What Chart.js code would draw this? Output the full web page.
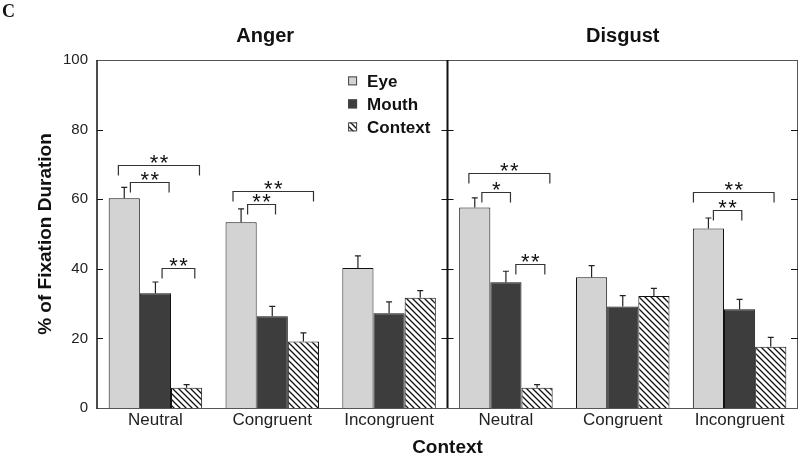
<!DOCTYPE html>
<html>
<head>
<meta charset="utf-8">
<script src="https://cdn.jsdelivr.net/npm/chart.js@4.4.1/dist/chart.umd.min.js"></script>
<style>
  html, body { margin: 0; padding: 0; background: #fff; }
  #wrap { width: 800px; height: 457px; position: relative; }
</style>
</head>
<body>
<div id="wrap"><canvas id="c" width="800" height="457"></canvas></div>
<script>
// categories: Anger panel then Disgust panel
const contexts = ["Neutral", "Congruent", "Incongruent"];
const panels = ["Anger", "Disgust"];
const series = ["Eye", "Mouth", "Context"];
const yTicks = [0, 20, 40, 60, 80, 100];

const angerEye = [60.3, 53.4, 40.2];
const angerMouth = [33.0, 26.4, 27.2];
const angerContext = [5.8, 19.1, 31.7];
const disgustEye = [57.6, 37.6, 51.6];
const disgustMouth = [36.1, 29.2, 28.4];
const disgustContext = [5.8, 32.2, 17.6];

// upper error (SEM)
const angerEyeErr = [3.1, 3.8, 3.5];
const angerMouthErr = [3.2, 2.8, 3.3];
const angerContextErr = [0.9, 2.5, 2.0];
const disgustEyeErr = [2.8, 3.3, 3.0];
const disgustMouthErr = [3.2, 3.1, 2.8];
const disgustContextErr = [0.9, 2.2, 2.7];

// significance brackets: category index, leg offsets (in category widths), level, stars
const brackets = [
  {cat: 0, from: -0.317, to: 0.377, y: 69.9, text: "**"},
  {cat: 0, from: -0.214, to: 0.117, y: 64.8, text: "**"},
  {cat: 0, from: 0.057, to: 0.337, y: 40.3, text: "**"},
  {cat: 1, from: -0.336, to: 0.353, y: 62.5, text: "**"},
  {cat: 1, from: -0.211, to: 0.028, y: 58.7, text: "**"},
  {cat: 3, from: -0.317, to: 0.376, y: 67.6, text: "**"},
  {cat: 3, from: -0.206, to: 0.039, y: 62.2, text: "*"},
  {cat: 3, from: 0.085, to: 0.333, y: 41.5, text: "**"},
  {cat: 5, from: -0.395, to: 0.295, y: 62.1, text: "**"},
  {cat: 5, from: -0.224, to: 0.019, y: 56.8, text: "**"}
];

const SANS = "'Liberation Sans', Arial, sans-serif";
const SERIF = "'Liberation Serif', 'Times New Roman', serif";

const labels = contexts.concat(contexts);
const errs = [
  angerEyeErr.concat(disgustEyeErr),
  angerMouthErr.concat(disgustMouthErr),
  angerContextErr.concat(disgustContextErr)
];

function hatch(){
  const c = document.createElement("canvas");
  c.width = 6; c.height = 6;
  const g = c.getContext("2d");
  g.fillStyle = "#fff";
  g.fillRect(0, 0, 6, 6);
  g.strokeStyle = "#111";
  g.lineWidth = 1.3;
  g.beginPath();
  g.moveTo(-1, -1); g.lineTo(7, 7);
  g.moveTo(-1, 5); g.lineTo(1, 7);
  g.moveTo(5, -1); g.lineTo(7, 1);
  g.stroke();
  return g.createPattern(c, "repeat");
}
const hatchFill = hatch();
const fills = ["#d3d3d3", "#3d3d3d", hatchFill];

const decor = {
  id: "decor",
  afterDatasetsDraw(chart){
    const ctx = chart.ctx;
    const a = chart.chartArea;
    const xs = chart.scales.x, ys = chart.scales.y;
    const catW = xs.getPixelForValue(1) - xs.getPixelForValue(0);
    ctx.save();

    // error bars (upper only)
    ctx.strokeStyle = "#222";
    ctx.lineWidth = 1.2;
    for (let d = 0; d < 3; d++) {
      const meta = chart.getDatasetMeta(d);
      const vals = chart.data.datasets[d].data;
      meta.data.forEach((bar, i) => {
        const y0 = ys.getPixelForValue(vals[i]);
        const y1 = ys.getPixelForValue(vals[i] + errs[d][i]);
        ctx.beginPath();
        ctx.moveTo(bar.x, y0); ctx.lineTo(bar.x, y1);
        ctx.moveTo(bar.x - 3, y1); ctx.lineTo(bar.x + 3, y1);
        ctx.stroke();
      });
    }

    // frame
    ctx.strokeStyle = "#555";
    ctx.lineWidth = 1;
    ctx.beginPath();
    ctx.moveTo(a.left, a.top + 0.5); ctx.lineTo(a.right, a.top + 0.5);
    ctx.moveTo(a.left, a.bottom + 0.5); ctx.lineTo(a.right, a.bottom + 0.5);
    ctx.moveTo(a.right - 0.5, a.top); ctx.lineTo(a.right - 0.5, a.bottom);
    ctx.stroke();
    ctx.strokeStyle = "#111";
    ctx.lineWidth = 1.5;
    ctx.beginPath();
    ctx.moveTo(a.left, a.top); ctx.lineTo(a.left, a.bottom + 1);
    ctx.stroke();

    // panel divider
    const mid = (xs.getPixelForValue(2) + xs.getPixelForValue(3)) / 2;
    ctx.lineWidth = 2;
    ctx.beginPath();
    ctx.moveTo(mid, a.top); ctx.lineTo(mid, a.bottom);
    ctx.stroke();

    // ticks
    ctx.lineWidth = 1;
    ctx.beginPath();
    yTicks.slice(1, -1).forEach(v => {
      const y = Math.round(ys.getPixelForValue(v)) + 0.5;
      ctx.moveTo(a.left, y); ctx.lineTo(a.left + 6, y);
      ctx.moveTo(mid - 6, y); ctx.lineTo(mid + 6, y);
      ctx.moveTo(a.right - 7, y); ctx.lineTo(a.right, y);
    });
    ctx.stroke();

    // brackets
    ctx.strokeStyle = "#333";
    ctx.fillStyle = "#111";
    ctx.lineWidth = 1.2;
    ctx.font = "22px " + SANS;
    ctx.textAlign = "center";
    ctx.textBaseline = "alphabetic";
    brackets.forEach(b => {
      const c = xs.getPixelForValue(b.cat);
      const x1 = c + b.from * catW, x2 = c + b.to * catW;
      const y = Math.round(ys.getPixelForValue(b.y)) + 0.5;
      ctx.beginPath();
      ctx.moveTo(x1, y + 10); ctx.lineTo(x1, y); ctx.lineTo(x2, y); ctx.lineTo(x2, y + 10);
      ctx.stroke();
      const n = b.text.length;
      const cx = (x1 + x2) / 2;
      for (let k = 0; k < n; k++) {
        ctx.fillText("*", cx + (k - (n - 1) / 2) * 10, y + 4);
      }
    });

    // legend
    const lx = xs.getPixelForValue(2) - 41;
    const ly = ys.getPixelForValue(94);
    ctx.font = "bold 17px " + SANS;
    ctx.textAlign = "left";
    ctx.textBaseline = "middle";
    series.forEach((s, i) => {
      const y = ly + i * 23;
      ctx.fillStyle = fills[i];
      ctx.fillRect(lx, y - 4.5, 9, 9);
      ctx.strokeStyle = "#444";
      ctx.lineWidth = 1;
      ctx.strokeRect(lx + 0.5, y - 4, 8, 8);
      ctx.fillStyle = "#111";
      ctx.fillText(s, lx + 19, y + 1);
    });

    // titles
    ctx.textAlign = "center";
    ctx.font = "bold 20px " + SANS;
    ctx.fillText(panels[0], xs.getPixelForValue(0.94), 36);
    ctx.fillText(panels[1], xs.getPixelForValue(4), 36);
    ctx.font = "bold 19px " + SANS;
    ctx.fillText("Context", (a.left + a.right) / 2, 448);
    ctx.save();
    ctx.translate(46, (a.top + a.bottom) / 2);
    ctx.rotate(-Math.PI / 2);
    ctx.fillText("% of Fixation Duration", 0, 0);
    ctx.restore();

    ctx.font = "bold 18px " + SERIF;
    ctx.textAlign = "left";
    ctx.fillText("C", 2, 12);
    ctx.restore();
  }
};

new Chart(document.getElementById("c"), {
  type: "bar",
  data: {
    labels: labels,
    datasets: [
      {label: series[0], data: angerEye.concat(disgustEye), backgroundColor: fills[0]},
      {label: series[1], data: angerMouth.concat(disgustMouth), backgroundColor: fills[1]},
      {label: series[2], data: angerContext.concat(disgustContext), backgroundColor: fills[2]}
    ].map(d => Object.assign(d, {borderColor: "#111", borderWidth: 1, borderSkipped: "start",
      categoryPercentage: 0.8, barPercentage: 1.0}))
  },
  options: {
    responsive: false,
    animation: false,
    events: [],
    layout: {padding: {top: 60, right: 2, left: 0, bottom: 0}},
    plugins: {legend: {display: false}, tooltip: {enabled: false}, title: {display: false}},
    scales: {
      x: {
        grid: {display: false, drawTicks: false},
        border: {display: false},
        ticks: {color: "#222", font: {family: SANS, size: 17}, padding: 2, maxRotation: 0, autoSkip: false},
        afterFit(s){ s.height = 49; }
      },
      y: {
        min: 0, max: 100,
        afterBuildTicks(s){ s.ticks = yTicks.map(v => ({value: v})); },
        grid: {display: false, drawTicks: false},
        border: {display: false},
        ticks: {color: "#222", font: {family: SANS, size: 15}, padding: 9},
        afterFit(s){ s.width = 97; }
      }
    }
  },
  plugins: [decor]
});
</script>
</body>
</html>
